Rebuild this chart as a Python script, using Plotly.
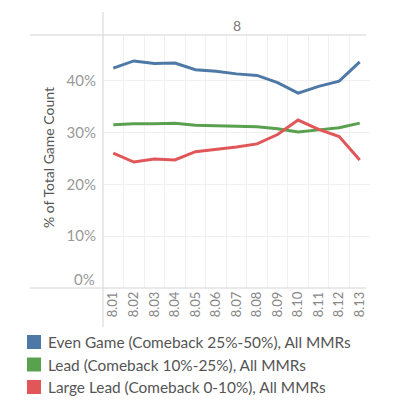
import plotly.graph_objects as go

patches = ["8.01", "8.02", "8.03", "8.04", "8.05", "8.06", "8.07",
           "8.08", "8.09", "8.10", "8.11", "8.12", "8.13"]
even_game = [42.4, 43.8, 43.3, 43.4, 42.1, 41.8, 41.3, 41.0, 39.6, 37.6, 38.9, 39.9, 43.6]
lead = [31.5, 31.7, 31.7, 31.8, 31.4, 31.3, 31.2, 31.1, 30.7, 30.1, 30.5, 30.9, 31.8]
large_lead = [26.0, 24.3, 24.9, 24.7, 26.3, 26.7, 27.2, 27.8, 29.6, 32.4, 30.6, 29.2, 24.7]

series_names = ["Even Game (Comeback 25%-50%), All MMRs",
                "Lead (Comeback 10%-25%), All MMRs",
                "Large Lead (Comeback 0-10%), All MMRs"]
series_values = [even_game, lead, large_lead]
colors = ["#4e79a7", "#59a14f", "#e15759"]

y_ticks = [10, 20, 30, 40]
y_tick_text = ["10%", "20%", "30%", "40%"]

FONT = "Lato"
fig = go.Figure()
for name, vals, col in zip(series_names, series_values, colors):
    fig.add_trace(go.Scatter(x=patches, y=vals, mode="lines", name=name,
                             line=dict(color=col, width=3), showlegend=False))

# page body has an 8px default margin; work in window pixel coords
OFF = 8
W, H = 396 - OFF, 410 - OFF
PL, PT, PR, PB = 103, 35, 370, 288  # plot box in window pixels
L, T = PL - OFF, PT - OFF
R, B = (W + OFF) - PR, (H + OFF) - PB
pw, ph = PR - PL, PB - PT

def px_x(p):
    return (p - PL) / pw

def px_y(p):
    return (PB - p) / ph

shapes = [
    dict(type="line", xref="paper", yref="paper", x0=px_x(30), x1=px_x(366),
         y0=1, y1=1, line=dict(color="#d4d4d4", width=1)),
    dict(type="line", xref="paper", yref="paper", x0=px_x(30), x1=px_x(366),
         y0=0, y1=0, line=dict(color="#d4d4d4", width=1)),
    dict(type="line", xref="paper", yref="paper", x0=0, x1=0,
         y0=px_y(327), y1=px_y(12), line=dict(color="#d4d4d4", width=1)),
]
annotations = [
    dict(text="8", xref="paper", yref="paper", x=0.5, y=px_y(26),
         xanchor="center", yanchor="middle",
         showarrow=False, font=dict(size=14, color="#777")),
    dict(text="% of Total Game Count", xref="paper", yref="paper",
         x=px_x(48), y=px_y(158), xanchor="center", yanchor="middle",
         textangle=-90, showarrow=False,
         font=dict(size=14, color="#555")),
    dict(text="0%", xref="paper", yref="y", x=0, y=0, xanchor="right",
         yanchor="middle", xshift=-6, yshift=9, showarrow=False,
         font=dict(size=15, color="#999")),
]

# legend (Tableau-style colour swatches)
legend_rows = [342, 364.5, 387]
for name, col, yc in zip(series_names, colors, legend_rows):
    shapes.append(dict(type="rect", xref="paper", yref="paper",
                       x0=px_x(27), x1=px_x(41), y0=px_y(yc - 7), y1=px_y(yc + 7),
                       fillcolor=col, line=dict(width=0)))
    annotations.append(dict(text=name, xref="paper", yref="paper",
                            x=px_x(46), y=px_y(yc), xanchor="left", yanchor="middle",
                            showarrow=False, font=dict(size=15.4, color="#555")))

fig.update_layout(
    width=W, height=H,
    margin=dict(l=L, r=R, t=T, b=B, autoexpand=False),
    paper_bgcolor="white", plot_bgcolor="white",
    font=dict(family=FONT, color="#666"),
    showlegend=False,
    xaxis=dict(type="category", tickson="boundaries", showgrid=True,
               gridcolor="#f0f0f0", gridwidth=1, tickangle=-90,
               tickfont=dict(size=13, color="#888"), ticks="", showline=False,
               zeroline=False, range=[-0.5, 12.5], automargin=False),
    yaxis=dict(range=[0, 48.8], tickvals=y_ticks, ticktext=y_tick_text,
               showgrid=True, gridcolor="#f0f0f0", gridwidth=1,
               tickfont=dict(size=15, color="#999"), ticks="", zeroline=False,
               showline=False, ticklabelstandoff=6, automargin=False),
    shapes=shapes,
    annotations=annotations,
)

fig.write_html("out.html")
